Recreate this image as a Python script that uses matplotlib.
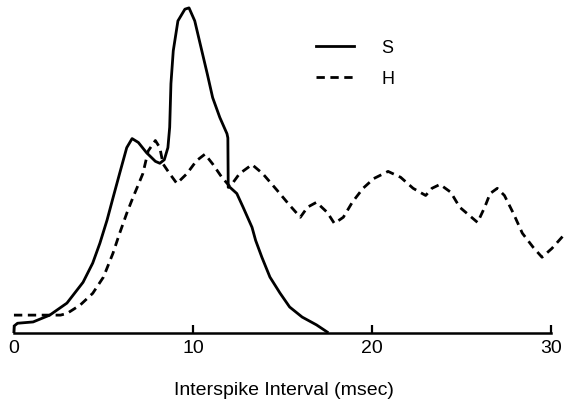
import matplotlib.pyplot as plt

# S curve (solid)
s_x = [0.0, 0.02, 0.2, 1.07, 2.0, 2.96, 3.86, 4.4, 4.8, 5.2, 5.53, 5.9, 6.3, 6.6,
       6.95, 7.4, 7.9, 8.15, 8.4, 8.6, 8.7, 8.77, 8.9, 9.16, 9.55, 9.78, 10.1,
       10.4, 10.8, 11.1, 11.5, 11.9, 11.95, 11.97, 12.07, 12.45, 12.8, 13.3, 13.5,
       13.85, 14.3, 14.86, 15.4, 16.1, 16.9, 17.5]
s_y = [0.3, 2.2, 3.0, 3.4, 5.5, 9.2, 15.6, 21.5, 27.6, 34.7, 41.5, 49, 57, 59.8,
       58.6, 55.5, 52.8, 52.2, 53.3, 57, 63.3, 76.7, 86.8, 96, 99.6, 100, 96,
       89, 79.7, 72.4, 66.3, 61.3, 60, 44.8, 44.8, 42.9, 38.7, 32.5, 28.5,
       23.3, 17.2, 12.3, 8, 4.9, 2.5, 0.3]

# H curve (dashed)
h_x = [0.0, 2.6, 2.96, 3.7, 4.4, 5.0, 5.53, 5.9, 6.3, 6.65, 6.9, 7.2, 7.5, 7.9,
       8.15, 8.33, 8.7, 9.1, 9.66, 10.2, 10.67, 11.1, 11.6, 12.07, 12.6, 13.3,
       13.9, 14.7, 15.4, 16.0, 16.4, 16.9, 17.5, 17.9, 18.4, 18.9, 19.5, 20.1,
       20.9, 21.6, 22.3, 23.0, 23.35, 23.8, 24.4, 24.9, 25.9, 26.3, 26.6, 27.0,
       27.4, 27.9, 28.4, 29.0, 29.5, 30.05, 30.7]
h_y = [5.5, 5.5, 6.0, 8.6, 12.2, 17.2, 24.5, 30.6, 36.8, 41.7, 45, 49, 56, 59.2,
       57, 52, 49, 46, 49, 53, 55, 52, 48, 45, 49, 51.8,
       49, 43.9, 39.3, 35.6, 38.7, 40.2, 37.1, 33.7, 35.6, 40.2, 44.5, 47.5,
       49.7, 47.9, 44.5, 42.3, 44.5, 45.7, 43.3, 38.7, 34, 38.7, 42.9, 44.5,
       42.3, 36.8, 30.7, 26.4, 23.3, 26, 30]

xticks = [0, 10, 20, 30]
fam = ['Liberation Sans', 'DejaVu Sans']

fig = plt.figure(figsize=(5.64, 4.05), dpi=100)
ax = fig.add_axes([5 / 564, 72 / 405, 558.5 / 564, 330 / 405])

ax.plot(s_x, s_y, 'k-', linewidth=2.0, solid_joinstyle='round', label='S')
ax.plot(h_x, h_y, 'k--', linewidth=2.0, dashes=(3, 2), label='H')

ax.set_xlim(-0.5, 30.7)
ax.set_ylim(0, 101.5)

for side in ['top', 'right', 'left']:
    ax.spines[side].set_visible(False)
ax.spines['bottom'].set_bounds(0, 30)
ax.spines['bottom'].set_linewidth(1.8)
ax.set_yticks([])
ax.set_xticks(xticks)
ax.set_xticklabels([str(t) for t in xticks], family=fam, fontsize=14)
ax.tick_params(axis='x', direction='in', length=6, width=1.6, pad=5)

ax.set_xlabel('Interspike Interval (msec)', family=fam, fontsize=14, labelpad=18)

ax.legend(loc='upper left', bbox_to_anchor=(0.528, 0.938), frameon=False,
          handlelength=2.1, handletextpad=1.5, labelspacing=0.78,
          prop={'family': fam, 'size': 13})

fig.savefig('out.png', dpi=100)
